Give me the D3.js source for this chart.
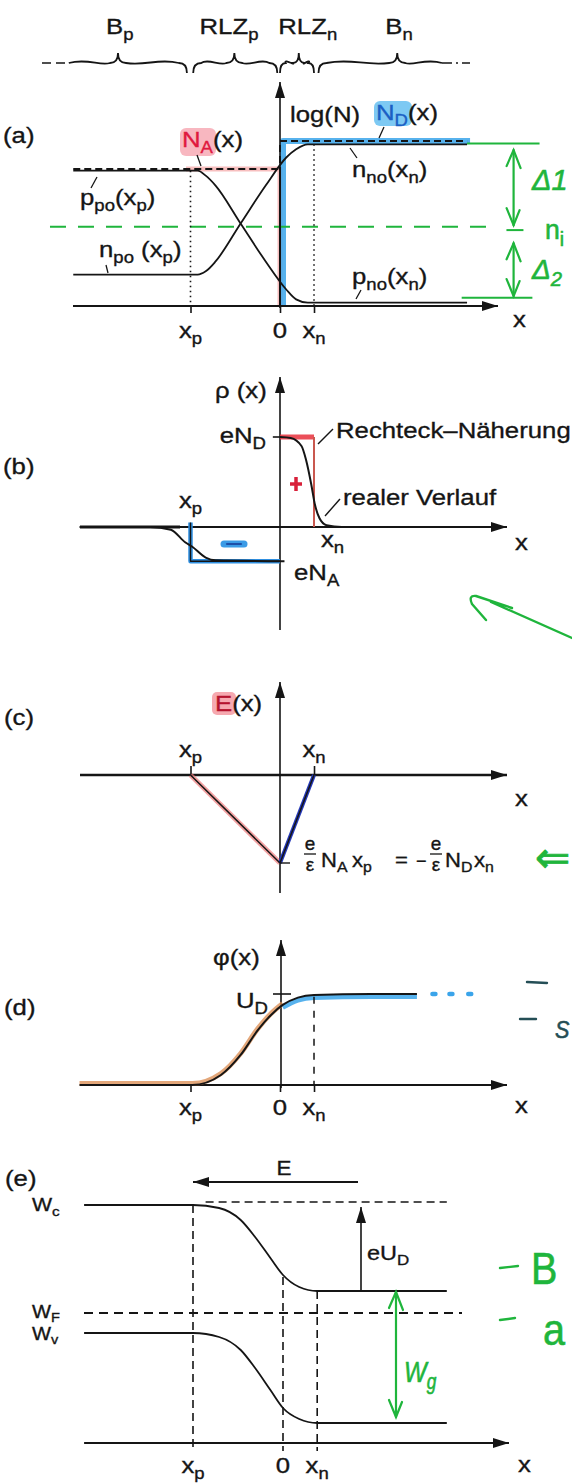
<!DOCTYPE html>
<html>
<head>
<meta charset="utf-8">
<script src="https://cdn.jsdelivr.net/npm/d3@7"></script>
<style>
  body { margin: 0; background: #fff; }
  svg { display: block; }
  text { font-family: "Liberation Sans", Arial, sans-serif; }
</style>
</head>
<body>
<svg id="chart"></svg>
<script>
// Achsenbeschriftungen (x_p, 0, x_n)
const tickPos = [-1, 0, 0.38];
const tickMain = ['x', '0', 'x'];
const tickSub = ['p', '', 'n'];

// Bereiche oben: Bahngebiete und Raumladungszonen
const regionName = ['B', 'RLZ', 'RLZ', 'B'];
const regionSub = ['p', 'p', 'n', 'n'];
const regionFrom = [-2.36, -0.97, 0.0, 0.43];
const regionTo = [-1.04, -0.03, 0.38, 1.81];
const regionTip = [-1.81, -0.51, 0.21, 1.31];
const regionText = [-1.79, -0.57, 0.31, 1.33];

// (a) Ladungsträgerdichten, log(N) in willkürlichen Einheiten
const carrierX = [-2.31, -0.92, -0.83, -0.72, -0.44, -0.16, 0.07, 0.18, 0.31, 2.09];
const holes = [8.2, 8.2, 7.9, 7.3, 5.0, 2.7, 1.0, 0.4, 0.2, 0.2];
const electrons = [1.9, 1.9, 2.1, 2.7, 5.0, 7.3, 9.0, 9.5, 9.8, 9.8];
const acceptorX = [-2.31, 0, 0];
const acceptor = [8.3, 8.3, 0];
const donorX = [0, 0, 2.09];
const donor = [0, 10, 10];
const niLevel = 4.8;

// (b) Raumladungsdichte
const rhoNegX = [-2.24, -1.45, -1.22, -1.06, -0.98, -0.83, -0.72, 0.05];
const rhoNeg = [0, 0, -0.03, -0.17, -0.22, -0.34, -0.37, -0.38];
const rhoPosX = [0, 0.12, 0.24, 0.29, 0.35, 0.39, 0.44, 0.52, 0.69, 1.2];
const rhoPos = [1.0, 0.99, 0.9, 0.75, 0.47, 0.25, 0.1, 0.02, 0, 0];
const rectNegX = [-1, -1, 0];
const rectNeg = [0.05, -0.38, -0.38];
const rectPosX = [0, 0.38, 0.38];
const rectPos = [1, 1, 0];

// (c) elektrisches Feld
const fieldX = [-1, 0, 0.38];
const field = [0, -1, 0];

// (d) Potential
const phiX = [-2.24, -0.98, -0.66, -0.44, -0.25, -0.10, 0.03, 0.20, 0.38, 1.02, 1.53];
const phi = [0, 0, 0.11, 0.33, 0.60, 0.77, 0.88, 0.96, 0.99, 1.0, 1.0];
const phiDotsX = [1.72, 1.91, 2.12];

// (e) Bänderschema
const bandX = [-2.21, -1, -0.71, -0.47, -0.31, -0.14, 0, 0.18, 0.38, 1.82];
const condBand = [2.18, 2.18, 2.15, 2.03, 1.86, 1.65, 1.48, 1.36, 1.32, 1.32];
const valBand = [0.90, 0.90, 0.86, 0.73, 0.55, 0.33, 0.15, 0.04, 0, 0];
const fermiLevel = 1.10;

const ink = '#151515', green = '#1fb53c', blue = '#3aa4ea', red = '#e0193f';

const svg = d3.select('#chart').attr('width', 572).attr('height', 1484);

// Pfeilspitze
svg.append('defs').append('marker')
  .attr('id', 'arrow').attr('viewBox', '0 0 16 10')
  .attr('refX', 16).attr('refY', 5)
  .attr('markerUnits', 'userSpaceOnUse')
  .attr('markerWidth', 16).attr('markerHeight', 10)
  .attr('orient', 'auto')
  .append('path').attr('d', 'M0,0L16,5L0,10Z').attr('fill', ink);

// Skalen
const xS = d3.scaleLinear().domain([-1, 0]).range([190.5, 280]);
const xE = d3.scaleLinear().domain([-1, 0]).range([193, 283]);
const yA = d3.scaleLinear().domain([0, 10]).range([306, 141]);
const yB = d3.scaleLinear().domain([0, 1]).range([527, 437]);
const yC = d3.scaleLinear().domain([-1, 0]).range([863, 775]);
const yD = d3.scaleLinear().domain([0, 1]).range([1085, 994]);
const yE = d3.scaleLinear().domain([0, 1]).range([1423, 1323]);

// Hilfsfunktionen
function label(x, y, parts, o = {}) {
  const size = o.size || 23;
  const col = o.color || ink;
  const t = svg.append('text')
    .attr('transform', `translate(${x},${y}) scale(${o.sx || 1.12},1)`)
    .attr('text-anchor', o.anchor || 'start')
    .attr('font-size', size)
    .attr('fill', col)
    .attr('stroke', col)
    .attr('stroke-width', o.bold || 0.35);
  if (o.italic) t.attr('font-style', 'italic');
  if (o.family) t.attr('font-family', o.family);
  let shift = 0;
  parts.forEach(p => {
    const [txt, sub, c] = typeof p === 'string' ? [p, 0, null] : p;
    const want = sub ? Math.round(size * 0.24) : 0;
    const s = t.append('tspan').text(txt).attr('dy', want - shift);
    if (sub) s.attr('font-size', size * 0.72);
    if (c) s.attr('fill', c).attr('stroke', c);
    shift = want;
  });
  return t;
}

function seg(x1, y1, x2, y2, o = {}) {
  const l = svg.append('line')
    .attr('x1', x1).attr('y1', y1).attr('x2', x2).attr('y2', y2)
    .attr('stroke', o.color || ink)
    .attr('stroke-width', o.width || 1.6);
  if (o.dash) l.attr('stroke-dasharray', o.dash);
  if (o.arrow) l.attr('marker-end', 'url(#arrow)');
  if (o.opacity) l.attr('stroke-opacity', o.opacity);
  if (o.cap) l.attr('stroke-linecap', o.cap);
  return l;
}

function curve(xs, ys, xScale, yScale, o = {}) {
  const gen = d3.line()
    .x(d => xScale(d[0]))
    .y(d => yScale(d[1]))
    .curve(o.smooth ? d3.curveMonotoneX : d3.curveLinear);
  const p = svg.append('path')
    .datum(d3.zip(xs, ys))
    .attr('d', gen)
    .attr('fill', 'none')
    .attr('stroke', o.color || ink)
    .attr('stroke-width', o.width || 1.8)
    .attr('stroke-linejoin', 'round');
  if (o.dash) p.attr('stroke-dasharray', o.dash);
  if (o.opacity) p.attr('stroke-opacity', o.opacity);
  if (o.cap) p.attr('stroke-linecap', o.cap);
  if (o.dx || o.dy) p.attr('transform', `translate(${o.dx || 0},${o.dy || 0})`);
  return p;
}

function brace(x1, x2, xt, y, curlL, curlR) {
  const r = Math.min(8, (x2 - x1) / 6);
  const p = d3.path();
  if (curlL) { p.moveTo(x1, y + 10); p.quadraticCurveTo(x1, y, x1 + r, y); }
  else p.moveTo(x1, y);
  const mL = (x1 + xt) / 2, mR = (xt + x2) / 2;
  p.bezierCurveTo(mL - 6, y - 5, mL + 6, y + 3, xt - r, y);
  p.quadraticCurveTo(xt, y, xt, y - 10);
  p.quadraticCurveTo(xt, y, xt + r, y);
  p.bezierCurveTo(mR - 6, y + 3, mR + 6, y - 5, curlR ? x2 - r : x2, y);
  if (curlR) p.quadraticCurveTo(x2, y, x2, y + 10);
  svg.append('path').attr('d', p.toString())
    .attr('fill', 'none').attr('stroke', ink).attr('stroke-width', 1.8);
}

function greenArrow(x, y1, y2, heads) {
  seg(x, y1, x, y2, { color: green, width: 2.2, cap: 'round' });
  if (heads[0]) svg.append('path').attr('d', `M${x - 7},${y1 + 16}L${x},${y1}L${x + 7},${y1 + 18}`)
    .attr('fill', 'none').attr('stroke', green).attr('stroke-width', 2.2).attr('stroke-linecap', 'round');
  if (heads[1]) svg.append('path').attr('d', `M${x - 7},${y2 - 17}L${x},${y2}L${x + 6},${y2 - 15}`)
    .attr('fill', 'none').attr('stroke', green).attr('stroke-width', 2.2).attr('stroke-linecap', 'round');
}

function tickLabels(xScale, y) {
  tickPos.forEach((t, i) => {
    label(xScale(t), y, [[tickMain[i]], [tickSub[i], 1]], { anchor: 'middle' });
  });
}

function ticks(xScale, y, size, top) {
  const ax = (top ? d3.axisTop(xScale) : d3.axisBottom(xScale))
    .tickValues(tickPos).tickSize(size).tickFormat('');
  const g = svg.append('g').attr('transform', `translate(0,${y})`).call(ax);
  g.select('.domain').remove();
  g.selectAll('line').attr('stroke', ink).attr('stroke-width', 1.6);
  return g;
}

// ---------- Bereiche oben ----------
regionName.forEach((n, i) => {
  brace(xS(regionFrom[i]), xS(regionTo[i]), xS(regionTip[i]), 63, i > 0, i < 3);
  label(xS(regionText[i]), 34, [[n], [regionSub[i], 1]], { anchor: 'middle' });
});
seg(42, 63, xS(regionFrom[0]), 63, { dash: '9,5', width: 1.6 });
seg(xS(regionTo[3]), 63, 470, 63, { dash: '10,4,2,4', width: 1.6 });

// ---------- (a) ----------
label(3, 143, ['(a)']);
// Markierungen (Textmarker)
curve([-1.05, 0, 0], [8.3, 8.3, 0], xS, yA, { color: '#f08a8a', width: 5, opacity: 0.55 });
curve(donorX, donor, xS, yA, { color: blue, width: 6, opacity: 0.85, dx: 3 });
seg(xS(2.09), yA(9.85), xS(2.9), yA(9.85), { color: green, width: 2 });
seg(xS(2.03), yA(0.5), xS(2.82), yA(0.5), { color: green, width: 2.2 });
seg(xS(-2.57), yA(niLevel), xS(2.38), yA(niLevel), { color: green, width: 2, dash: '16,12' });
greenArrow(xS(2.61), yA(9.45), yA(4.9), [1, 1]);
greenArrow(xS(2.61), yA(3.8), yA(0.6), [1, 1]);
seg(xS(2.53), yA(4.6), xS(2.72), yA(4.6), { color: green, width: 2 });
label(532, 190, ['Δ1'], { color: green, size: 29, italic: true, sx: 1, bold: 0.6 });
label(545, 239, [['n'], ['i', 1]], { color: green, size: 28, sx: 0.95, bold: 0.6 });
label(532, 279, [['Δ'], ['2', 1]], { color: green, size: 28, italic: true, sx: 1, bold: 0.6 });

// Dichten
curve(acceptorX, acceptor, xS, yA, { dash: '7,4', width: 2 });
curve(donorX, donor, xS, yA, { dash: '7,4', width: 2 });
curve(carrierX, holes, xS, yA, { smooth: true, width: 1.8 });
curve(carrierX, electrons, xS, yA, { smooth: true, width: 1.8 });
seg(xS(-1), yA(8.2), xS(-1), yA(0), { dash: '1.5,3.5', width: 1.6 });
seg(xS(0.38), yA(9.8), xS(0.38), yA(0), { dash: '1.5,3.5', width: 1.6 });

// Achsen
seg(73, yA(0), 498, yA(0), { arrow: true, width: 2 });
seg(xS(0), yA(0) + 2, xS(0), 82, { arrow: true, width: 1.6 });
ticks(xS, yA(0), 7);
tickLabels(xS, 338);
label(513, 327, ['x']);

svg.append('rect').attr('x', 374).attr('y', 101).attr('width', 38).attr('height', 25)
  .attr('rx', 6).attr('fill', '#5cbcf0').attr('opacity', 0.8);
svg.append('rect').attr('x', 180).attr('y', 128).attr('width', 36).attr('height', 28)
  .attr('rx', 6).attr('fill', '#f37b8c').attr('opacity', 0.55);
label(290, 122, ['log(N)']);
label(376, 120, [['N', 0, '#1b5fc4'], ['D', 1, '#1b5fc4'], ['(x)']]);
label(182, 147, [['N', 0, red], ['A', 1, red], ['(x)']]);
label(80, 205, [['p'], ['po', 1], ['(x'], ['p', 1], [')']]);
label(99, 257, [['n'], ['po', 1], [' (x'], ['p', 1], [')']]);
label(352, 177, [['n'], ['no', 1], ['(x'], ['n', 1], [')']]);
label(352, 284, [['p'], ['no', 1], ['(x'], ['n', 1], [')']]);
seg(197, 155, 201, 166, { width: 1.3 });
seg(384, 127, 379, 138, { width: 1.3 });
seg(91, 188, 97, 177, { width: 1.3 });
seg(106, 265, 108, 273, { width: 1.3 });
seg(350, 148, 357, 158, { width: 1.3 });
seg(361, 290, 356, 299, { width: 1.3 });

// ---------- (b) ----------
label(3, 474, ['(b)']);
seg(80, yB(0), 507, yB(0), { arrow: true, width: 2 });
seg(80, yB(0), 180, yB(0), { width: 3.2 });
seg(xS(0), 630, xS(0), 377, { arrow: true, width: 1.6 });
// Rechteck-Näherung
curve(rectNegX, rectNeg, xS, yB, { color: '#2f8fe0', width: 4.5 });
curve(rectNegX, rectNeg, xS, yB, { width: 1.4 });
curve(rectPosX.slice(0, 2), rectPos.slice(0, 2), xS, yB, { color: '#e8303c', width: 5, opacity: 0.85 });
curve(rectPosX.slice(1), rectPos.slice(1), xS, yB, { color: '#c9584f', width: 2 });
// realer Verlauf
curve(rhoNegX, rhoNeg, xS, yB, { smooth: true, width: 2 });
curve(rhoPosX, rhoPos, xS, yB, { smooth: true, width: 2 });
seg(xS(-0.08), yB(1), xS(0), yB(1), { width: 1.6 });
// Vorzeichen
seg(290, 484, 302, 484, { color: '#d8203a', width: 3.5 });
seg(296, 477, 296, 491, { color: '#d8203a', width: 3.5 });
seg(224, 544, 244, 544, { color: '#3b9be6', width: 7, cap: 'round' });
seg(227, 544, 241, 544, { color: '#1d4fa8', width: 2.2, cap: 'round' });

label(215, 398, ['ρ (x)']);
label(266, 443, [['eN'], ['D', 1]], { anchor: 'end' });
label(336, 438, ['Rechteck–Näherung']);
label(343, 505, ['realer Verlauf']);
label(xS(-1), 508, [['x'], ['p', 1]], { anchor: 'middle' });
label(321, 547, [['x'], ['n', 1]]);
label(515, 550, ['x']);
label(294, 580, [['eN'], ['A', 1]]);
seg(318, 444, 333, 429, { width: 1.4 });
seg(325, 516, 340, 499, { width: 1.4 });
// grüner Pfeil
svg.append('path').attr('d', 'M572,638L491,602M512,608L476,596Q468,595 472,604L486,620')
  .attr('fill', 'none').attr('stroke', green).attr('stroke-width', 2.4)
  .attr('stroke-linecap', 'round').attr('stroke-linejoin', 'round');

// ---------- (c) ----------
label(4, 725, ['(c)']);
svg.append('rect').attr('x', 212).attr('y', 692).attr('width', 24).attr('height', 23)
  .attr('rx', 5).attr('fill', '#f0707c').attr('opacity', 0.6);
label(215, 711, [['E', 0, '#b5122e'], ['(x)']]);
seg(80, yC(0), 507, yC(0), { arrow: true, width: 2.4 });
seg(xS(0), 893, xS(0), 682, { arrow: true, width: 1.6 });
ticks(xS, yC(0), 9, true).selectAll('.tick').filter(d => d === 0).remove();
curve(fieldX.slice(0, 2), field.slice(0, 2), xS, yC, { color: '#ef7a7a', width: 5, opacity: 0.7 });
curve(fieldX.slice(1), field.slice(1), xS, yC, { color: '#2438b8', width: 4 });
curve(fieldX, field, xS, yC, { width: 1.5 });
seg(xS(0), yC(-1), xS(0) + 10, yC(-1), { width: 1.4 });
label(xS(-1), 757, [['x'], ['p', 1]], { anchor: 'middle' });
label(xS(0.38), 757, [['x'], ['n', 1]], { anchor: 'middle' });
label(515, 806, ['x']);
// Formel
[310, 436].forEach(cx => {
  label(cx, 850, ['e'], { anchor: 'middle', size: 18, sx: 1.05 });
  seg(cx - 6, 854, cx + 6, 854, { width: 1.3 });
  label(cx, 871, ['ε'], { anchor: 'middle', size: 18, sx: 1.05 });
});
label(321, 867, [['N'], ['A', 1]], { size: 21, sx: 1.05 });
label(352, 867, [['x'], ['p', 1]], { size: 21, sx: 1.05 });
label(395, 867, ['='], { size: 21, sx: 1.05 });
label(416, 867, ['−'], { size: 18, sx: 1 });
label(445, 867, [['N'], ['D', 1]], { size: 21, sx: 1.05 });
label(474, 867, [['x'], ['n', 1]], { size: 21, sx: 1.05 });
label(535, 872, ['⇐'], { color: green, size: 42, sx: 1, family: 'DejaVu Sans', bold: 0.8 });

// ---------- (d) ----------
label(4, 1015, ['(d)']);
seg(82, yD(0), 507, yD(0), { arrow: true, width: 2 });
seg(281, 1088, 281, 940, { arrow: true, width: 1.6 });
ticks(xS, yD(0), 7);
const leftPart = phiX.map((v, i) => i).filter(i => phiX[i] <= 0.03);
const rightPart = phiX.map((v, i) => i).filter(i => phiX[i] >= 0.03);
curve(leftPart.map(i => phiX[i]), leftPart.map(i => phi[i]), xS, yD,
  { smooth: true, color: '#d98a4e', width: 5, opacity: 0.75, dy: -1.5 });
curve(rightPart.map(i => phiX[i]), rightPart.map(i => phi[i]), xS, yD,
  { smooth: true, color: blue, width: 5, opacity: 0.85, dy: 2.5 });
curve(phiX, phi, xS, yD, { smooth: true, width: 2 });
phiDotsX.forEach(d => seg(xS(d) - 1.5, yD(1), xS(d) + 1.5, yD(1), { color: blue, width: 4.5, cap: 'round' }));
seg(xS(0.38), yD(0.97), xS(0.38), yD(0), { dash: '7,7', width: 1.5 });
seg(273, yD(1), 291, yD(1), { width: 1.6 });
label(213, 965, ['φ(x)']);
label(268, 1008, [['U'], ['D', 1]], { anchor: 'end' });
tickLabels(xS, 1115);
label(515, 1113, ['x']);
seg(527, 982, 547, 983, { color: '#244e56', width: 2.4, cap: 'round' });
seg(520, 1019, 536, 1019, { color: '#244e56', width: 2.4, cap: 'round' });
label(555, 1038, ['S'], { color: '#244e56', size: 24, sx: 0.9, italic: true, bold: 0.6 });

// ---------- (e) ----------
label(5, 1186, ['(e)']);
seg(358, 1182, 193, 1182, { arrow: true, width: 1.8 });
label(284, 1175, ['E'], { anchor: 'middle', size: 20 });
seg(xE(-2.21), yE(0) + 20, 509, yE(0) + 20, { arrow: true, width: 1.8 });
[-1, 0, 0.38].forEach((t, i) => {
  const top = [condBand[1], 1.46, condBand[8]][i];
  seg(xE(t), yE(top), xE(t), yE(0) + 28, { dash: '8,5', width: 1.6 });
});
seg(xE(-0.86), yE(2.21), xE(1.82), yE(2.21), { dash: '8,5', width: 1.6 });
seg(84, yE(fermiLevel), 462, yE(fermiLevel), { dash: '9,6', width: 1.8 });
curve(bandX, condBand, xE, yE, { smooth: true, width: 1.8 });
curve(bandX, valBand, xE, yE, { smooth: true, width: 1.8 });
seg(361, yE(1.32), 361, yE(2.16), { arrow: true, width: 1.6 });
label(32, 1211, [['W'], ['c', 1]], { size: 19 });
label(32, 1318, [['W'], ['F', 1]], { size: 18 });
label(32, 1340, [['W'], ['v', 1]], { size: 18 });
label(367, 1260, [['eU'], ['D', 1]], { size: 21 });
tickLabels(xE, 1473);
label(518, 1472, ['x']);
greenArrow(396, yE(1.31), yE(0.06), [1, 1]);
label(404, 1382, [['W'], ['g', 1]], { color: green, size: 30, sx: 0.8, italic: true, bold: 0.6 });
seg(500, 1268, 518, 1266, { color: green, width: 2.4, cap: 'round' });
label(531, 1284, ['B'], { color: green, size: 44, sx: 0.9, bold: 0.6 });
seg(500, 1320, 515, 1318, { color: green, width: 2.4, cap: 'round' });
label(543, 1345, ['a'], { color: green, size: 44, sx: 0.9, bold: 0.6 });
</script>
</body>
</html>
